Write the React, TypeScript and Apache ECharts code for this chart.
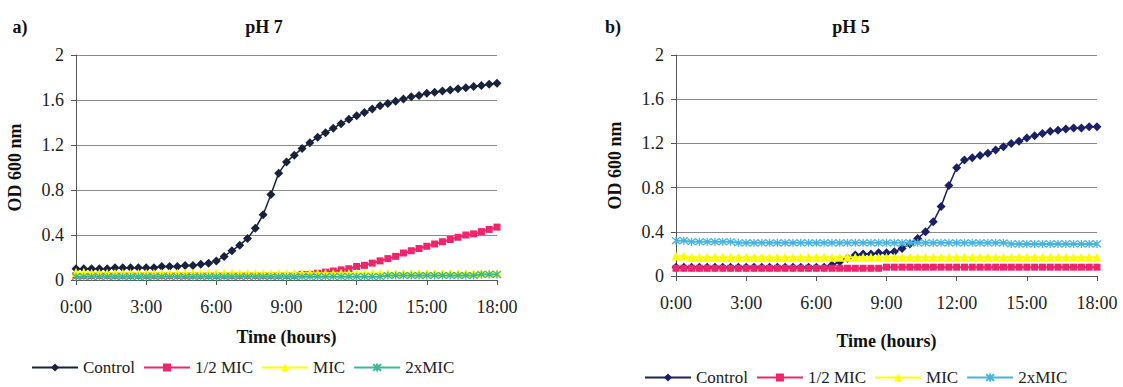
import React, { useEffect, useRef } from "react";
import * as echarts from "echarts";

const times = [
  "0:00","0:20","0:40","1:00","1:20","1:40","2:00","2:20","2:40",
  "3:00","3:20","3:40","4:00","4:20","4:40","5:00","5:20","5:40",
  "6:00","6:20","6:40","7:00","7:20","7:40","8:00","8:20","8:40",
  "9:00","9:20","9:40","10:00","10:20","10:40","11:00","11:20","11:40",
  "12:00","12:20","12:40","13:00","13:20","13:40","14:00","14:20","14:40",
  "15:00","15:20","15:40","16:00","16:20","16:40","17:00","17:20","17:40",
  "18:00",
];

const seriesNames = ["Control", "1/2 MIC", "MIC", "2xMIC"];

// pH 7 (panel a)
const ph7Control = [
  0.10,0.10,0.10,0.10,0.10,0.11,0.11,0.11,0.11,
  0.11,0.11,0.12,0.12,0.12,0.13,0.13,0.14,0.15,
  0.17,0.21,0.26,0.31,0.37,0.46,0.58,0.76,0.95,
  1.05,1.11,1.17,1.22,1.27,1.31,1.35,1.39,1.43,
  1.46,1.49,1.52,1.55,1.57,1.59,1.61,1.63,1.64,
  1.66,1.67,1.68,1.69,1.70,1.71,1.72,1.73,1.74,
  1.75,
];
const ph7HalfMic = [
  0.04,0.04,0.04,0.04,0.04,0.04,0.04,0.04,0.04,
  0.04,0.04,0.04,0.04,0.04,0.04,0.04,0.04,0.04,
  0.04,0.04,0.04,0.04,0.04,0.04,0.04,0.04,0.04,
  0.04,0.04,0.05,0.05,0.06,0.07,0.08,0.09,0.10,
  0.12,0.13,0.15,0.17,0.19,0.21,0.24,0.26,0.28,
  0.30,0.32,0.34,0.36,0.38,0.40,0.41,0.43,0.45,
  0.47,
];
const ph7Mic = [
  0.07,0.07,0.06,0.06,0.06,0.06,0.06,0.06,0.06,
  0.06,0.06,0.06,0.06,0.06,0.06,0.06,0.06,0.06,
  0.06,0.06,0.06,0.06,0.06,0.06,0.06,0.06,0.06,
  0.06,0.06,0.06,0.06,0.06,0.06,0.06,0.06,0.06,
  0.06,0.06,0.06,0.06,0.06,0.06,0.06,0.06,0.06,
  0.06,0.06,0.06,0.06,0.06,0.06,0.06,0.06,0.06,
  0.06,
];
const ph72xMic = [
  0.03,0.03,0.03,0.03,0.03,0.03,0.03,0.03,0.03,
  0.03,0.03,0.03,0.03,0.03,0.03,0.03,0.03,0.03,
  0.03,0.03,0.03,0.03,0.03,0.03,0.03,0.03,0.03,
  0.03,0.03,0.03,0.03,0.03,0.03,0.03,0.03,0.03,
  0.03,0.03,0.03,0.03,0.04,0.04,0.04,0.04,0.04,
  0.04,0.04,0.04,0.04,0.04,0.04,0.04,0.05,0.05,
  0.05,
];

// pH 5 (panel b)
const ph5Control = [
  0.08,0.08,0.08,0.08,0.08,0.08,0.08,0.08,0.08,
  0.08,0.08,0.08,0.08,0.08,0.08,0.08,0.08,0.08,
  0.08,0.08,0.10,0.13,0.16,0.19,0.20,0.20,0.21,
  0.21,0.22,0.25,0.29,0.34,0.40,0.49,0.63,0.82,
  0.98,1.05,1.07,1.09,1.11,1.14,1.17,1.20,1.22,
  1.25,1.27,1.29,1.31,1.32,1.33,1.34,1.34,1.35,
  1.35,
];
const ph5HalfMic = [
  0.07,0.07,0.07,0.07,0.07,0.07,0.07,0.07,0.07,
  0.07,0.07,0.07,0.07,0.07,0.07,0.07,0.07,0.07,
  0.07,0.07,0.07,0.07,0.07,0.07,0.07,0.07,0.07,
  0.08,0.08,0.08,0.08,0.08,0.08,0.08,0.08,0.08,
  0.08,0.08,0.08,0.08,0.08,0.08,0.08,0.08,0.08,
  0.08,0.08,0.08,0.08,0.08,0.08,0.08,0.08,0.08,
  0.08,
];
const ph5Mic = [
  0.18,0.18,0.17,0.17,0.17,0.17,0.17,0.17,0.17,
  0.17,0.17,0.17,0.17,0.17,0.17,0.17,0.17,0.17,
  0.17,0.17,0.17,0.17,0.17,0.17,0.17,0.17,0.17,
  0.17,0.17,0.17,0.17,0.17,0.17,0.17,0.17,0.17,
  0.17,0.17,0.17,0.17,0.17,0.17,0.17,0.17,0.17,
  0.17,0.17,0.17,0.17,0.17,0.17,0.17,0.17,0.17,
  0.17,
];
const ph52xMic = [
  0.32,0.32,0.31,0.31,0.31,0.31,0.31,0.31,0.30,
  0.30,0.30,0.30,0.30,0.30,0.30,0.30,0.30,0.30,
  0.30,0.30,0.30,0.30,0.30,0.30,0.30,0.30,0.30,
  0.30,0.30,0.30,0.30,0.30,0.30,0.30,0.30,0.30,
  0.30,0.30,0.30,0.30,0.30,0.30,0.30,0.29,0.29,
  0.29,0.29,0.29,0.29,0.29,0.29,0.29,0.29,0.29,
  0.29,
];

const yTicks = [0, 0.4, 0.8, 1.2, 1.6, 2];

const FONT = '"Liberation Serif", "Times New Roman", serif';
const ASTERISK = "path://M0,0L10,10M10,0L0,10M5,-1L5,11";

const leftColors = ["#18223C", "#F0246C", "#FFFF00", "#3DB896"];
const rightColors = ["#1B1F66", "#F0246C", "#FFFF00", "#45B4E0"];
const symbols = ["diamond", "rect", "triangle", ASTERISK];
const symbolSizes = [9, 7, 9, 8];

function makeSeries(name: string, idx: number, data: number[], axis: number, colors: string[], suffix: string) {
  const isStar = idx === 3;
  return {
    name: name + suffix,
    type: "line",
    xAxisIndex: axis,
    yAxisIndex: axis,
    data,
    symbol: symbols[idx],
    symbolSize: symbolSizes[idx],
    showAllSymbol: true,
    z: 2 + idx,
    lineStyle: { color: colors[idx], width: idx === 0 ? 1.5 : 2 },
    itemStyle: {
      color: colors[idx],
      borderColor: colors[idx],
      borderWidth: isStar ? 1.3 : 0,
    },
  };
}

export default function App() {
  const ref = useRef<HTMLDivElement>(null);
  useEffect(() => {
    if (!ref.current) return;
    const chart = echarts.init(ref.current, null, { renderer: "svg" });

    const xAxisBase = (gridIndex: number, nameGap: number) => ({
      gridIndex,
      type: "category",
      data: times,
      boundaryGap: false,
      axisLine: { lineStyle: { color: "#555", width: 1 } },
      axisTick: { interval: 8, length: 5, lineStyle: { color: "#555" } },
      axisLabel: { interval: 8, margin: 18, color: "#222", fontFamily: FONT, fontSize: 18 },
      splitLine: { show: false },
      name: "Time (hours)",
      nameLocation: "middle",
      nameGap,
      nameTextStyle: { fontFamily: FONT, fontSize: 18, fontWeight: "bold", color: "#111" },
    });
    const yAxisBase = (gridIndex: number) => ({
      gridIndex,
      type: "value",
      min: yTicks[0],
      max: yTicks[yTicks.length - 1],
      interval: 0.4,
      axisLine: { show: true, lineStyle: { color: "#555", width: 1 } },
      axisTick: { show: true, length: 5, lineStyle: { color: "#555" } },
      axisLabel: {
        margin: 12,
        color: "#222",
        fontFamily: FONT,
        fontSize: 18,
        formatter: (v: number) => String(Math.round(v * 10) / 10),
      },
      splitLine: { show: true, lineStyle: { color: "#8a8a8a", width: 1 } },
      name: "OD 600 nm",
      nameLocation: "middle",
      nameGap: 52,
      nameRotate: 90,
      nameTextStyle: { fontFamily: FONT, fontSize: 18, fontWeight: "bold", color: "#111" },
    });

    const leftData = [ph7Control, ph7HalfMic, ph7Mic, ph72xMic];
    const rightData = [ph5Control, ph5HalfMic, ph5Mic, ph52xMic];

    const series: any[] = [];
    seriesNames.forEach((n, i) => series.push(makeSeries(n, i, leftData[i], 0, leftColors, "#a")));
    seriesNames.forEach((n, i) => series.push(makeSeries(n, i, rightData[i], 1, rightColors, "#b")));

    const legendBase = (left: number, top: number, suffix: string) => ({
      left,
      top,
      orient: "horizontal",
      itemWidth: 46,
      itemHeight: 10,
      itemGap: 8,
      selectedMode: false,
      data: seriesNames.map((n) => n + suffix),
      formatter: (name: string) => `{s|${name.split("#")[0]}}`,
      textStyle: {
        fontFamily: FONT,
        fontSize: 17,
        color: "#222",
        rich: { s: { fontFamily: FONT, fontSize: 17, color: "#222" } },
      },
    });

    chart.setOption({
      animation: false,
      backgroundColor: "#ffffff",
      textStyle: { fontFamily: FONT },
      grid: [
        { left: 76, top: 55, width: 421, height: 225 },
        { left: 676, top: 55, width: 421, height: 221 },
      ],
      xAxis: [xAxisBase(0, 48), xAxisBase(1, 56)],
      yAxis: [yAxisBase(0), yAxisBase(1)],
      legend: [legendBase(26, 354, "#a"), legendBase(639, 364, "#b")],
      series,
      graphic: [
        { type: "text", x: 20, y: 27, style: { text: "a)", textAlign: "center", textVerticalAlign: "middle", font: `bold 18px ${FONT}`, fill: "#111" } },
        { type: "text", x: 264, y: 27, style: { text: "pH 7", textAlign: "center", textVerticalAlign: "middle", font: `bold 18px ${FONT}`, fill: "#111" } },
        { type: "text", x: 613, y: 27, style: { text: "b)", textAlign: "center", textVerticalAlign: "middle", font: `bold 18px ${FONT}`, fill: "#111" } },
        { type: "text", x: 851, y: 27, style: { text: "pH 5", textAlign: "center", textVerticalAlign: "middle", font: `bold 18px ${FONT}`, fill: "#111" } },
      ],
    });
    return () => chart.dispose();
  }, []);

  return (
    <div
      ref={ref}
      style={{ position: "fixed", left: 0, top: 0, width: 1123, height: 387, background: "#fff" }}
    />
  );
}
